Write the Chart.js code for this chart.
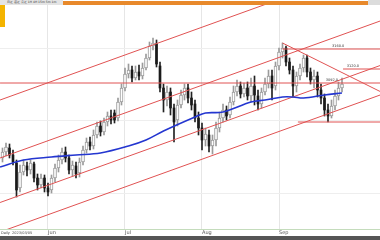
<!DOCTYPE html>
<html><head><meta charset="utf-8">
<script src="https://cdn.jsdelivr.net/npm/chart.js@4.4.1/dist/chart.umd.min.js"></script>
<style>
html,body{margin:0;padding:0;background:#fff;}
#wrap{position:relative;width:380px;height:240px;overflow:hidden;background:#fff;}
canvas{position:absolute;left:0;top:0;}
.blk{position:absolute;box-sizing:border-box;}
.tb{font-family:'DejaVu Sans',sans-serif;font-size:3px;line-height:4px;color:#333;white-space:nowrap;}
</style></head><body>
<div id="wrap">
<canvas id="c" width="380" height="240"></canvas>
<div class="blk tb" style="left:0;top:0;width:63px;height:5px;background:#e4e4e4;padding-left:7px;">日足 週足 月足 1H 4H 15m 5m 1m</div>
<div class="blk" style="left:63px;top:1px;width:305px;height:4px;background:#e8892b;"></div>
<div class="blk" style="left:368px;top:0;width:12px;height:5px;background:#dcdcdc;"></div>
<div class="blk" style="left:0;top:5px;width:5px;height:22px;background:#f4b400;"></div>
<div class="blk tb" style="left:1px;top:231px;font-size:3.5px;color:#444;">Daily&nbsp;&nbsp;2023/03/05</div>
<div class="blk" style="left:0;top:236px;width:380px;height:4px;background:#555555;"></div>
</div>
<script>
// ---- data (prices) ----
const opens  = [2942,2954,2962,2948,2932,2882,2914,2926,2918,2930,
                2902,2888,2902,2882,2878,2902,2922,2938,2954,2942,
                2918,2926,2912,2934,2958,2974,2966,2988,3006,2994,
                3014,3026,3032,3022,3054,3082,3110,3118,3102,3114,
                3106,3122,3142,3166,3170,3126,3082,3058,3074,3042,
                3018,3048,3068,3082,3062,3050,3022,3002,2978,2988,
                2966,2978,3002,3022,3038,3028,3054,3074,3086,3070,
                3082,3066,3086,3066,3050,3074,3090,3106,3086,3126,
                3154,3162,3134,3118,3086,3106,3122,3142,3114,3098,
                3106,3078,3062,3038,3026,3046,3066,3082];
const closes = [2954,2964,2948,2934,2878,2914,2928,2918,2932,2902,
                2888,2902,2882,2874,2902,2922,2938,2954,2942,2918,
                2928,2910,2934,2958,2974,2966,2988,3006,2994,3014,
                3026,3018,3018,3054,3082,3110,3118,3102,3114,3106,
                3122,3142,3166,3172,3130,3082,3058,3074,3042,3014,
                3048,3068,3082,3062,3048,3022,3002,2978,2990,2966,
                2978,3002,3022,3038,3026,3054,3074,3086,3070,3082,
                3066,3086,3068,3050,3074,3090,3106,3082,3126,3154,
                3162,3134,3118,3086,3106,3122,3142,3114,3098,3106,
                3078,3062,3038,3026,3046,3066,3082,3090];
const highs  = [2962,2972,2970,2958,2938,2928,2938,2934,2938,2934,
                2910,2910,2908,2892,2908,2930,2948,2962,2964,2948,
                2936,2934,2942,2966,2982,2984,2998,3014,3016,3022,
                3034,3038,3038,3062,3090,3122,3130,3126,3126,3128,
                3132,3150,3174,3182,3178,3134,3090,3086,3082,3050,
                3058,3078,3090,3090,3074,3058,3034,3012,3002,2998,
                2988,3014,3034,3050,3046,3064,3086,3098,3094,3092,
                3094,3102,3106,3078,3082,3102,3118,3118,3134,3162,
                3172,3166,3142,3126,3114,3130,3148,3148,3122,3118,
                3114,3090,3070,3050,3058,3078,3094,3102];
const lows   = [2934,2946,2942,2928,2864,2874,2908,2906,2910,2894,
                2878,2882,2874,2866,2872,2894,2914,2930,2934,2910,
                2906,2902,2904,2928,2952,2958,2960,2982,2986,2988,
                3006,3010,3012,3016,3048,3076,3102,3094,3098,3098,
                3100,3118,3138,3158,3124,3074,3034,3046,3028,2974,
                3006,3042,3058,3052,3038,3014,2988,2958,2966,2954,
                2950,2966,2994,3014,3018,3022,3048,3066,3062,3064,
                3058,3054,3048,3038,3042,3068,3082,3058,3078,3118,
                3142,3126,3110,3064,3074,3098,3114,3104,3090,3082,
                3064,3050,3026,3014,3022,3038,3058,3074];

// moving average, read at selected days
const maDays   = [-0.7,6,14,21,28,36,41,46,55,58,63,71,75,80,83,86,92,97];
const maValues = [2924,2938,2944,2948,2952,2966,2978,2996,3024,3032,3034,3054,3058,3064,3064,3062,3068,3072];

// parallel channel lines (value at left edge and right edge)
const channelDays  = [-0.7, 107.9];
const channelLeft  = [3058, 2942, 2853, 2794];
const channelRight = [3332, 3216, 3127, 3068];

// descending fan line from the top
const fanDays   = [80, 107.9];
const fanValues = [3172, 3075];

// horizontal levels
const levelValues = [3160, 3120, 3092, 3014];
const levelStart  = [80, 97.3, -0.7, 84.4];
const levelLabels = ['3160.0', '3120.0', '3092.0', ''];
const labelDays   = [95.9, 100.1, 94.1, 0];

// axis ticks
const tickDays   = [13, 35, 57, 79];
const tickLabels = ['Jun', 'Jul', 'Aug', 'Sep'];
const gridValues = [2872, 3017, 3162];

// ---- build datasets ----
const RED = '#e05252';
const upW = [], dnW = [], upB = [], dnB = [];
opens.forEach((o, i) => {
  const c = closes[i];
  const w = {x: i, y: [lows[i], highs[i]]};
  const b = {x: i, y: [o, c]};
  if (c >= o) { upW.push(w); upB.push(b); } else { dnW.push(w); dnB.push(b); }
});
const datasets = [];
datasets.push({type:'bar', data: upW, backgroundColor:'#9a9a9a', barThickness:1, grouped:false, order:5});
datasets.push({type:'bar', data: dnW, backgroundColor:'#222', barThickness:1, grouped:false, order:5});
datasets.push({type:'bar', data: upB, backgroundColor:'#ffffff', borderColor:'#9a9a9a', borderWidth:1, borderSkipped:false, barThickness:3, grouped:false, order:4});
datasets.push({type:'bar', data: dnB, backgroundColor:'#1a1a1a', borderColor:'#1a1a1a', borderWidth:0, barThickness:2, grouped:false, order:4});
channelLeft.forEach((v, k) => {
  datasets.push({type:'line', data:[{x:channelDays[0], y:v}, {x:channelDays[1], y:channelRight[k]}],
    borderColor: RED, borderWidth:1, pointRadius:0, order:2});
});
datasets.push({type:'line', data: fanDays.map((d, k) => ({x:d, y:fanValues[k]})), borderColor: RED, borderWidth:1, pointRadius:0, order:2});
levelValues.forEach((v, k) => {
  datasets.push({type:'line', data:[{x:levelStart[k], y:v}, {x:107.9, y:v}], borderColor: RED, borderWidth:1, pointRadius:0, order:2});
});
datasets.push({type:'line', data: maDays.map((d, k) => ({x:d, y:maValues[k]})), borderColor:'#2436d0', borderWidth:1.6,
  pointRadius:0, tension:0.35, order:1});

const labelPlugin = {
  id:'levelLabels',
  afterDatasetsDraw(chart) {
    const {ctx, scales:{x, y}} = chart;
    ctx.save();
    ctx.font = '3.5px "DejaVu Sans"';
    ctx.fillStyle = '#333';
    ctx.textAlign = 'center';
    ctx.textBaseline = 'bottom';
    levelLabels.forEach((t, k) => {
      if (!t) return;
      ctx.fillText(t, x.getPixelForValue(labelDays[k]), y.getPixelForValue(levelValues[k]) - 1);
    });
    ctx.restore();
  }
};

new Chart(document.getElementById('c'), {
  type:'bar',
  data:{datasets},
  options:{
    responsive:false, animation:false, devicePixelRatio:1,
    layout:{padding:{top:5, bottom:3, left:0, right:0}},
    plugins:{legend:{display:false}, tooltip:{enabled:false}},
    scales:{
      x:{type:'linear', min:-0.714, max:107.857, offset:false,
         afterBuildTicks:(s) => { s.ticks = tickDays.map(v => ({value:v})); },
         ticks:{callback:(v, i) => tickLabels[i], font:{size:5, family:'DejaVu Sans'}, color:'#555',
                padding:1, align:'start', maxRotation:0, autoSkip:false},
         grid:{color:'#e6e6e6', drawTicks:false, offset:false},
         border:{color:'#c4dcbc'}},
      y:{min:2800, max:3248,
         afterBuildTicks:(s) => { s.ticks = gridValues.map(v => ({value:v})); },
         ticks:{display:false},
         grid:{color:'#eeeeee', drawTicks:false},
         border:{display:false}}
    }
  },
  plugins:[labelPlugin]
});
</script>
</body></html>
